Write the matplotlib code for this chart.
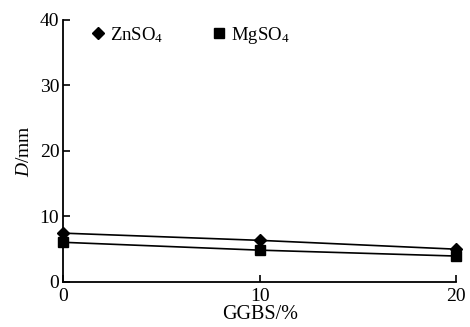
import matplotlib
matplotlib.use("Agg")
import matplotlib.pyplot as plt
from matplotlib.lines import Line2D

plt.rcParams["font.family"] = ["Liberation Serif", "DejaVu Serif"]
plt.rcParams["mathtext.fontset"] = "custom"
plt.rcParams["mathtext.rm"] = "Liberation Serif"
plt.rcParams["mathtext.it"] = "Liberation Serif:italic"

# GGBS content (%) vs. erosion depth D (mm)
ggbs = [0, 10, 20]
d_znso4 = [7.4, 6.3, 4.95]
d_mgso4 = [6.0, 4.8, 3.9]

fig = plt.figure(figsize=(4.7, 3.27), dpi=100)
ax = fig.add_axes([0.135, 0.139, 0.835, 0.80])

ax.plot(ggbs, d_znso4, color="black", lw=1.2, marker="D", ms=6.5, clip_on=False)
ax.plot(ggbs, d_mgso4, color="black", lw=1.2, marker="s", ms=6.5, clip_on=False)

ax.set_xlim(0, 20)
ax.set_ylim(0, 40)
ax.set_xticks([0, 10, 20])
ax.set_yticks([0, 10, 20, 30, 40])
ax.tick_params(direction="in", length=5, width=1.2, labelsize=14, pad=3)
ax.tick_params(axis="x", pad=5)
for side in ("top", "right"):
    ax.spines[side].set_visible(False)
for side in ("left", "bottom"):
    ax.spines[side].set_linewidth(1.3)

ax.set_xlabel("GGBS/%", fontsize=14.5, labelpad=0)
ax.set_ylabel(r"$\mathit{D}$/mm", fontsize=14, labelpad=5)

# marker-only legend entries
handles = [
    Line2D([], [], color="black", ls="none", marker="D", ms=6.5),
    Line2D([], [], color="black", ls="none", marker="s", ms=6.5),
]
ax.legend(handles, [r"ZnSO$_4$", r"MgSO$_4$"], loc="upper left",
          bbox_to_anchor=(0.055, 1.01), ncol=2, frameon=False, fontsize=13.5,
          handlelength=0.6, handletextpad=0.35, columnspacing=2.65,
          borderaxespad=0)

fig.savefig("out.png", dpi=100)
